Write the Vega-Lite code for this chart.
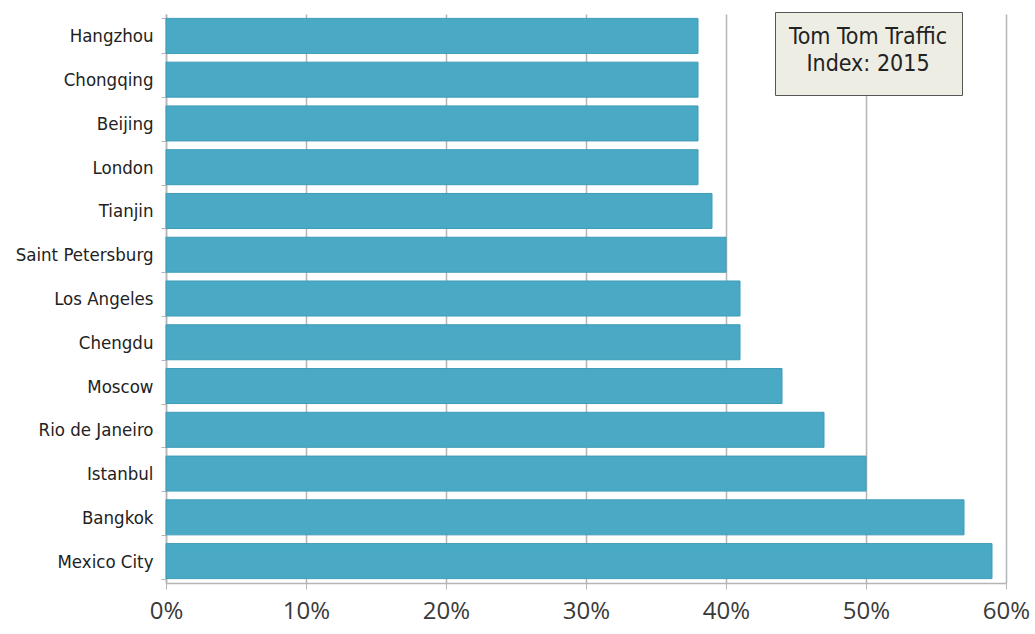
{
  "$schema": "https://vega.github.io/schema/vega-lite/v6.json",
  "autosize": "none",
  "width": 840,
  "height": 569,
  "padding": {"left": 166, "top": 14, "right": 29, "bottom": 51},
  "background": "white",
  "data": {
    "values": [
      {"city": "Hangzhou", "congestion": 0.38, "src": "TomTom"},
      {"city": "Chongqing", "congestion": 0.38, "src": "TomTom"},
      {"city": "Beijing", "congestion": 0.38, "src": "TomTom"},
      {"city": "London", "congestion": 0.38, "src": "TomTom"},
      {"city": "Tianjin", "congestion": 0.39, "src": "TomTom"},
      {"city": "Saint Petersburg", "congestion": 0.40, "src": "TomTom"},
      {"city": "Los Angeles", "congestion": 0.41, "src": "TomTom"},
      {"city": "Chengdu", "congestion": 0.41, "src": "TomTom"},
      {"city": "Moscow", "congestion": 0.44, "src": "TomTom"},
      {"city": "Rio de Janeiro", "congestion": 0.47, "src": "TomTom"},
      {"city": "Istanbul", "congestion": 0.50, "src": "TomTom"},
      {"city": "Bangkok", "congestion": 0.57, "src": "TomTom"},
      {"city": "Mexico City", "congestion": 0.59, "src": "TomTom"}
    ]
  },
  "mark": {"type": "bar", "stroke": "#3d9cb8", "strokeWidth": 1},
  "encoding": {
    "y": {
      "field": "city",
      "type": "nominal",
      "sort": ["Hangzhou", "Chongqing", "Beijing", "London", "Tianjin", "Saint Petersburg", "Los Angeles", "Chengdu", "Moscow", "Rio de Janeiro", "Istanbul", "Bangkok", "Mexico City"],
      "scale": {"paddingInner": 0.2, "paddingOuter": 0.1},
      "axis": {
        "title": null,
        "domainColor": "#b5b5b5",
        "domainWidth": 1.5,
        "tickColor": "#b5b5b5",
        "tickSize": 5,
        "tickBand": "extent",
        "labelFont": "Liberation Sans Narrow, Arial Narrow, DejaVu Sans Condensed, sans-serif",
        "labelFontSize": 18.5,
        "labelColor": "#222222",
        "labelPadding": 8,
        "grid": false
      }
    },
    "x": {
      "field": "congestion",
      "type": "quantitative",
      "scale": {"domain": [0, 0.6], "nice": false},
      "axis": {
        "title": null,
        "format": ".0%",
        "values": [0, 0.1, 0.2, 0.3, 0.4, 0.5, 0.6],
        "labelFlush": false,
        "domainColor": "#b5b5b5",
        "domainWidth": 1.5,
        "tickColor": "#b5b5b5",
        "tickSize": 6,
        "gridColor": "#b5b5b5",
        "gridWidth": 1.5,
        "labelFont": "Open Sans, sans-serif",
        "labelFontSize": 24,
        "labelColor": "#3a3a3a",
        "labelPadding": 10
      }
    },
    "color": {
      "field": "src",
      "type": "nominal",
      "scale": {"range": ["#4aaac5"]},
      "legend": {
        "orient": "none",
        "legendX": 609,
        "legendY": -2,
        "title": ["Tom Tom Traffic", "Index: 2015"],
        "titleFont": "Liberation Sans Narrow, Arial Narrow, DejaVu Sans Condensed, sans-serif",
        "titleFontSize": 23,
        "titleFontWeight": "normal",
        "titleColor": "#222222",
        "titleLineHeight": 27,
        "titleAlign": "center",
        "titleAnchor": "middle",
        "titlePadding": 0,
        "titleLimit": 400,
        "symbolSize": 0,
        "symbolOpacity": 0,
        "symbolStrokeWidth": 0,
        "labelExpr": "''",
        "labelFontSize": 0,
        "labelOpacity": 0,
        "rowPadding": 0,
        "fillColor": "#eeede3",
        "strokeColor": "#555555",
        "padding": 14
      }
    }
  },
  "config": {"view": {"stroke": null}}
}
